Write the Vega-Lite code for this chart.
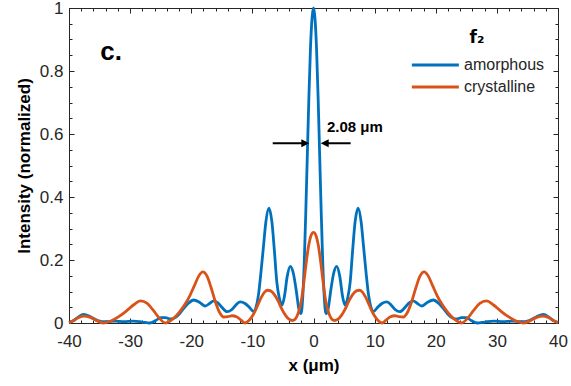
{
  "$schema": "https://vega.github.io/schema/vega-lite/v6.json",
  "width": 489,
  "height": 315,
  "autosize": {"type": "none"},
  "padding": {"left": 69, "top": 8, "right": 13, "bottom": 63},
  "background": "white",
  "config": {
    "font": "Liberation Sans",
    "view": {"stroke": "#262626", "strokeWidth": 1},
    "axis": {
      "labelFont": "Liberation Sans", "labelFontSize": 17, "labelColor": "#262626",
      "titleFont": "Liberation Sans", "titleFontSize": 17, "titleFontWeight": "bold", "titleColor": "#000000",
      "tickColor": "#262626", "tickWidth": 1, "domain": false, "grid": false
    }
  },
  "datasets": {
    "curves": [
      {"x": -40.0, "y": 0.002, "s": "amorphous"}, {"x": -39.3, "y": 0.007, "s": "amorphous"}, {"x": -38.6, "y": 0.017, "s": "amorphous"}, {"x": -37.6, "y": 0.027, "s": "amorphous"}, {"x": -36.5, "y": 0.02, "s": "amorphous"}, {"x": -35.3, "y": 0.008, "s": "amorphous"}, {"x": -34.0, "y": 0.004, "s": "amorphous"}, {"x": -32.5, "y": 0.006, "s": "amorphous"}, {"x": -31.0, "y": 0.004, "s": "amorphous"}, {"x": -29.5, "y": 0.006, "s": "amorphous"}, {"x": -28.0, "y": 0.003, "s": "amorphous"}, {"x": -26.8, "y": 0.0, "s": "amorphous"}, {"x": -25.8, "y": 0.008, "s": "amorphous"}, {"x": -25.0, "y": 0.017, "s": "amorphous"}, {"x": -24.2, "y": 0.017, "s": "amorphous"}, {"x": -23.5, "y": 0.013, "s": "amorphous"}, {"x": -22.8, "y": 0.015, "s": "amorphous"}, {"x": -22.0, "y": 0.028, "s": "amorphous"}, {"x": -21.3, "y": 0.045, "s": "amorphous"}, {"x": -20.5, "y": 0.062, "s": "amorphous"}, {"x": -19.6, "y": 0.073, "s": "amorphous"}, {"x": -18.6, "y": 0.065, "s": "amorphous"}, {"x": -17.7, "y": 0.054, "s": "amorphous"}, {"x": -17.0, "y": 0.062, "s": "amorphous"}, {"x": -16.3, "y": 0.07, "s": "amorphous"}, {"x": -15.6, "y": 0.063, "s": "amorphous"}, {"x": -15.0, "y": 0.05, "s": "amorphous"}, {"x": -14.15, "y": 0.036, "s": "amorphous"}, {"x": -13.4, "y": 0.042, "s": "amorphous"}, {"x": -12.8, "y": 0.055, "s": "amorphous"}, {"x": -12.0, "y": 0.067, "s": "amorphous"}, {"x": -11.2, "y": 0.062, "s": "amorphous"}, {"x": -10.4, "y": 0.048, "s": "amorphous"}, {"x": -9.8, "y": 0.036, "s": "amorphous"}, {"x": -9.4, "y": 0.05, "s": "amorphous"}, {"x": -9.0, "y": 0.09, "s": "amorphous"}, {"x": -8.6, "y": 0.16, "s": "amorphous"}, {"x": -8.2, "y": 0.24, "s": "amorphous"}, {"x": -7.8, "y": 0.32, "s": "amorphous"}, {"x": -7.3, "y": 0.365, "s": "amorphous"}, {"x": -6.8, "y": 0.32, "s": "amorphous"}, {"x": -6.4, "y": 0.23, "s": "amorphous"}, {"x": -6.0, "y": 0.13, "s": "amorphous"}, {"x": -5.6, "y": 0.08, "s": "amorphous"}, {"x": -5.15, "y": 0.057, "s": "amorphous"}, {"x": -4.75, "y": 0.085, "s": "amorphous"}, {"x": -4.3, "y": 0.148, "s": "amorphous"}, {"x": -3.8, "y": 0.18, "s": "amorphous"}, {"x": -3.3, "y": 0.158, "s": "amorphous"}, {"x": -2.8, "y": 0.1, "s": "amorphous"}, {"x": -2.4, "y": 0.045, "s": "amorphous"}, {"x": -2.05, "y": 0.03, "s": "amorphous"}, {"x": -1.75, "y": 0.085, "s": "amorphous"}, {"x": -1.5, "y": 0.2, "s": "amorphous"}, {"x": -1.25, "y": 0.36, "s": "amorphous"}, {"x": -1.0, "y": 0.54, "s": "amorphous"}, {"x": -0.75, "y": 0.72, "s": "amorphous"}, {"x": -0.5, "y": 0.87, "s": "amorphous"}, {"x": -0.25, "y": 0.965, "s": "amorphous"},
      {"x": 0.0, "y": 1.0, "s": "amorphous"},
      {"x": 0.25, "y": 0.965, "s": "amorphous"}, {"x": 0.5, "y": 0.87, "s": "amorphous"}, {"x": 0.75, "y": 0.72, "s": "amorphous"}, {"x": 1.0, "y": 0.54, "s": "amorphous"}, {"x": 1.25, "y": 0.36, "s": "amorphous"}, {"x": 1.5, "y": 0.2, "s": "amorphous"}, {"x": 1.75, "y": 0.085, "s": "amorphous"}, {"x": 2.05, "y": 0.03, "s": "amorphous"}, {"x": 2.4, "y": 0.045, "s": "amorphous"}, {"x": 2.8, "y": 0.1, "s": "amorphous"}, {"x": 3.3, "y": 0.158, "s": "amorphous"}, {"x": 3.8, "y": 0.18, "s": "amorphous"}, {"x": 4.3, "y": 0.148, "s": "amorphous"}, {"x": 4.75, "y": 0.085, "s": "amorphous"}, {"x": 5.15, "y": 0.057, "s": "amorphous"}, {"x": 5.6, "y": 0.08, "s": "amorphous"}, {"x": 6.0, "y": 0.13, "s": "amorphous"}, {"x": 6.4, "y": 0.23, "s": "amorphous"}, {"x": 6.8, "y": 0.32, "s": "amorphous"}, {"x": 7.3, "y": 0.365, "s": "amorphous"}, {"x": 7.8, "y": 0.32, "s": "amorphous"}, {"x": 8.2, "y": 0.24, "s": "amorphous"}, {"x": 8.6, "y": 0.16, "s": "amorphous"}, {"x": 9.0, "y": 0.09, "s": "amorphous"}, {"x": 9.4, "y": 0.05, "s": "amorphous"}, {"x": 9.8, "y": 0.036, "s": "amorphous"}, {"x": 10.4, "y": 0.048, "s": "amorphous"}, {"x": 11.2, "y": 0.062, "s": "amorphous"}, {"x": 12.0, "y": 0.067, "s": "amorphous"}, {"x": 12.8, "y": 0.055, "s": "amorphous"}, {"x": 13.4, "y": 0.042, "s": "amorphous"}, {"x": 14.15, "y": 0.036, "s": "amorphous"}, {"x": 15.0, "y": 0.05, "s": "amorphous"}, {"x": 15.6, "y": 0.063, "s": "amorphous"}, {"x": 16.3, "y": 0.07, "s": "amorphous"}, {"x": 17.0, "y": 0.062, "s": "amorphous"}, {"x": 17.7, "y": 0.054, "s": "amorphous"}, {"x": 18.6, "y": 0.065, "s": "amorphous"}, {"x": 19.6, "y": 0.073, "s": "amorphous"}, {"x": 20.5, "y": 0.062, "s": "amorphous"}, {"x": 21.3, "y": 0.045, "s": "amorphous"}, {"x": 22.0, "y": 0.028, "s": "amorphous"}, {"x": 22.8, "y": 0.015, "s": "amorphous"}, {"x": 23.5, "y": 0.013, "s": "amorphous"}, {"x": 24.2, "y": 0.017, "s": "amorphous"}, {"x": 25.0, "y": 0.017, "s": "amorphous"}, {"x": 25.8, "y": 0.008, "s": "amorphous"}, {"x": 26.8, "y": 0.0, "s": "amorphous"}, {"x": 28.0, "y": 0.003, "s": "amorphous"}, {"x": 29.5, "y": 0.006, "s": "amorphous"}, {"x": 31.0, "y": 0.004, "s": "amorphous"}, {"x": 32.5, "y": 0.006, "s": "amorphous"}, {"x": 34.0, "y": 0.004, "s": "amorphous"}, {"x": 35.3, "y": 0.008, "s": "amorphous"}, {"x": 36.5, "y": 0.02, "s": "amorphous"}, {"x": 37.6, "y": 0.027, "s": "amorphous"}, {"x": 38.6, "y": 0.017, "s": "amorphous"}, {"x": 39.3, "y": 0.007, "s": "amorphous"}, {"x": 40.0, "y": 0.002, "s": "amorphous"},

      {"x": -40.0, "y": 0.0, "s": "crystalline"}, {"x": -39.4, "y": 0.006, "s": "crystalline"}, {"x": -38.6, "y": 0.016, "s": "crystalline"}, {"x": -37.6, "y": 0.022, "s": "crystalline"}, {"x": -36.5, "y": 0.018, "s": "crystalline"}, {"x": -35.3, "y": 0.006, "s": "crystalline"}, {"x": -34.3, "y": 0.0, "s": "crystalline"}, {"x": -33.5, "y": 0.004, "s": "crystalline"}, {"x": -32.5, "y": 0.013, "s": "crystalline"}, {"x": -31.5, "y": 0.025, "s": "crystalline"}, {"x": -30.5, "y": 0.04, "s": "crystalline"}, {"x": -29.4, "y": 0.058, "s": "crystalline"}, {"x": -28.3, "y": 0.07, "s": "crystalline"}, {"x": -27.2, "y": 0.062, "s": "crystalline"}, {"x": -26.2, "y": 0.04, "s": "crystalline"}, {"x": -25.2, "y": 0.015, "s": "crystalline"}, {"x": -24.2, "y": 0.0, "s": "crystalline"}, {"x": -23.0, "y": 0.013, "s": "crystalline"}, {"x": -22.0, "y": 0.033, "s": "crystalline"}, {"x": -21.0, "y": 0.06, "s": "crystalline"}, {"x": -20.2, "y": 0.088, "s": "crystalline"}, {"x": -19.5, "y": 0.118, "s": "crystalline"}, {"x": -18.8, "y": 0.148, "s": "crystalline"}, {"x": -18.1, "y": 0.162, "s": "crystalline"}, {"x": -17.4, "y": 0.148, "s": "crystalline"}, {"x": -16.8, "y": 0.115, "s": "crystalline"}, {"x": -16.1, "y": 0.07, "s": "crystalline"}, {"x": -15.4, "y": 0.035, "s": "crystalline"}, {"x": -14.7, "y": 0.019, "s": "crystalline"}, {"x": -14.0, "y": 0.02, "s": "crystalline"}, {"x": -13.3, "y": 0.023, "s": "crystalline"}, {"x": -12.6, "y": 0.02, "s": "crystalline"}, {"x": -11.9, "y": 0.01, "s": "crystalline"}, {"x": -11.2, "y": 0.0, "s": "crystalline"}, {"x": -10.6, "y": 0.007, "s": "crystalline"}, {"x": -10.0, "y": 0.022, "s": "crystalline"}, {"x": -9.5, "y": 0.04, "s": "crystalline"}, {"x": -9.0, "y": 0.062, "s": "crystalline"}, {"x": -8.5, "y": 0.083, "s": "crystalline"}, {"x": -8.0, "y": 0.098, "s": "crystalline"}, {"x": -7.5, "y": 0.104, "s": "crystalline"}, {"x": -7.0, "y": 0.102, "s": "crystalline"}, {"x": -6.4, "y": 0.09, "s": "crystalline"}, {"x": -5.8, "y": 0.07, "s": "crystalline"}, {"x": -5.2, "y": 0.045, "s": "crystalline"}, {"x": -4.6, "y": 0.025, "s": "crystalline"}, {"x": -4.0, "y": 0.012, "s": "crystalline"}, {"x": -3.4, "y": 0.008, "s": "crystalline"}, {"x": -2.8, "y": 0.018, "s": "crystalline"}, {"x": -2.4, "y": 0.038, "s": "crystalline"}, {"x": -2.0, "y": 0.07, "s": "crystalline"}, {"x": -1.6, "y": 0.125, "s": "crystalline"}, {"x": -1.2, "y": 0.19, "s": "crystalline"}, {"x": -0.8, "y": 0.245, "s": "crystalline"}, {"x": -0.4, "y": 0.278, "s": "crystalline"},
      {"x": 0.0, "y": 0.288, "s": "crystalline"},
      {"x": 0.4, "y": 0.278, "s": "crystalline"}, {"x": 0.8, "y": 0.245, "s": "crystalline"}, {"x": 1.2, "y": 0.19, "s": "crystalline"}, {"x": 1.6, "y": 0.125, "s": "crystalline"}, {"x": 2.0, "y": 0.07, "s": "crystalline"}, {"x": 2.4, "y": 0.038, "s": "crystalline"}, {"x": 2.8, "y": 0.018, "s": "crystalline"}, {"x": 3.4, "y": 0.008, "s": "crystalline"}, {"x": 4.0, "y": 0.012, "s": "crystalline"}, {"x": 4.6, "y": 0.025, "s": "crystalline"}, {"x": 5.2, "y": 0.045, "s": "crystalline"}, {"x": 5.8, "y": 0.07, "s": "crystalline"}, {"x": 6.4, "y": 0.09, "s": "crystalline"}, {"x": 7.0, "y": 0.102, "s": "crystalline"}, {"x": 7.5, "y": 0.104, "s": "crystalline"}, {"x": 8.0, "y": 0.098, "s": "crystalline"}, {"x": 8.5, "y": 0.083, "s": "crystalline"}, {"x": 9.0, "y": 0.062, "s": "crystalline"}, {"x": 9.5, "y": 0.04, "s": "crystalline"}, {"x": 10.0, "y": 0.022, "s": "crystalline"}, {"x": 10.6, "y": 0.007, "s": "crystalline"}, {"x": 11.2, "y": 0.0, "s": "crystalline"}, {"x": 11.9, "y": 0.01, "s": "crystalline"}, {"x": 12.6, "y": 0.02, "s": "crystalline"}, {"x": 13.3, "y": 0.023, "s": "crystalline"}, {"x": 14.0, "y": 0.02, "s": "crystalline"}, {"x": 14.7, "y": 0.019, "s": "crystalline"}, {"x": 15.4, "y": 0.035, "s": "crystalline"}, {"x": 16.1, "y": 0.07, "s": "crystalline"}, {"x": 16.8, "y": 0.115, "s": "crystalline"}, {"x": 17.4, "y": 0.148, "s": "crystalline"}, {"x": 18.1, "y": 0.162, "s": "crystalline"}, {"x": 18.8, "y": 0.148, "s": "crystalline"}, {"x": 19.5, "y": 0.118, "s": "crystalline"}, {"x": 20.2, "y": 0.088, "s": "crystalline"}, {"x": 21.0, "y": 0.06, "s": "crystalline"}, {"x": 22.0, "y": 0.033, "s": "crystalline"}, {"x": 23.0, "y": 0.013, "s": "crystalline"}, {"x": 24.2, "y": 0.0, "s": "crystalline"}, {"x": 25.2, "y": 0.015, "s": "crystalline"}, {"x": 26.2, "y": 0.04, "s": "crystalline"}, {"x": 27.2, "y": 0.062, "s": "crystalline"}, {"x": 28.3, "y": 0.07, "s": "crystalline"}, {"x": 29.4, "y": 0.058, "s": "crystalline"}, {"x": 30.5, "y": 0.04, "s": "crystalline"}, {"x": 31.5, "y": 0.025, "s": "crystalline"}, {"x": 32.5, "y": 0.013, "s": "crystalline"}, {"x": 33.5, "y": 0.004, "s": "crystalline"}, {"x": 34.3, "y": 0.0, "s": "crystalline"}, {"x": 35.3, "y": 0.006, "s": "crystalline"}, {"x": 36.5, "y": 0.018, "s": "crystalline"}, {"x": 37.6, "y": 0.022, "s": "crystalline"}, {"x": 38.6, "y": 0.016, "s": "crystalline"}, {"x": 39.4, "y": 0.006, "s": "crystalline"}, {"x": 40.0, "y": 0.0, "s": "crystalline"}
    ],
    "arrows": [
      {"x": -6.67, "x2": -1.2, "y": 0.5706},
      {"x": 6.08, "x2": 1.7, "y": 0.5706}
    ],
    "heads": [
      {"x": -0.69, "y": 0.5706, "d": "r"},
      {"x": 1.18, "y": 0.5706, "d": "l"}
    ],
    "labels": [
      {"x": -34.9, "y": 0.86, "t": "c.", "k": "panel"},
      {"x": 2.2, "y": 0.623, "t": "2.08 μm", "k": "fwhm"}
    ],
    "dummy": [{"x": 0, "y": 0}]
  },
  "layer": [
    {
      "data": {"name": "curves"},
      "mark": {"type": "line", "interpolate": "monotone", "strokeWidth": 2.8},
      "encoding": {
        "x": {
          "field": "x", "type": "quantitative",
          "scale": {"domain": [-40, 40], "nice": false, "zero": false},
          "axis": {"orient": "bottom", "values": [-40, -30, -20, -10, 0, 10, 20, 30, 40], "labelExpr": "toString(datum.value)", "tickSize": -5, "labelPadding": 15, "labelFlush": false, "title": "x (μm)", "titlePadding": 8}
        },
        "y": {
          "field": "y", "type": "quantitative",
          "scale": {"domain": [0, 1], "nice": false},
          "axis": {"orient": "left", "values": [0, 0.2, 0.4, 0.6, 0.8, 1], "labelExpr": "toString(datum.value)", "tickSize": -5, "labelPadding": 11, "labelFlush": false, "title": "Intensity (normalized)", "titlePadding": 6}
        },
        "color": {
          "field": "s", "type": "nominal",
          "scale": {"domain": ["amorphous", "crystalline"], "range": ["#0072BD", "#D95319"]},
          "legend": {
            "orient": "none", "legendX": 341, "legendY": 22,
            "title": "f₂", "titleFont": "DejaVu Sans", "titleFontSize": 17, "titleFontWeight": "bold", "titleColor": "#000000", "titleAnchor": "middle", "titlePadding": 10,
            "labelFontSize": 16, "labelColor": "#262626", "labelOffset": 3,
            "symbolType": "M-7,0H1", "symbolStrokeWidth": 2.8, "symbolSize": 138, "symbolOffset": 35, "rowPadding": 6, "padding": 0
          }
        }
      }
    },
    {
      "data": {"name": "dummy"},
      "mark": {"type": "point", "opacity": 0},
      "encoding": {
        "x": {"field": "x", "type": "quantitative", "axis": {"orient": "bottom", "values": [-40, -38, -36, -34, -32, -30, -28, -26, -24, -22, -20, -18, -16, -14, -12, -10, -8, -6, -4, -2, 0, 2, 4, 6, 8, 10, 12, 14, 16, 18, 20, 22, 24, 26, 28, 30, 32, 34, 36, 38, 40], "tickSize": -3, "labels": false, "title": null}},
        "y": {"field": "y", "type": "quantitative", "axis": {"orient": "left", "values": [0, 0.05, 0.1, 0.15, 0.2, 0.25, 0.3, 0.35, 0.4, 0.45, 0.5, 0.55, 0.6, 0.65, 0.7, 0.75, 0.8, 0.85, 0.9, 0.95, 1], "tickSize": -3, "labels": false, "title": null}}
      }
    },
    {
      "data": {"name": "dummy"},
      "mark": {"type": "point", "opacity": 0},
      "encoding": {
        "x": {"field": "x", "type": "quantitative", "axis": {"orient": "top", "values": [-40, -30, -20, -10, 0, 10, 20, 30, 40], "tickSize": -5, "labels": false, "title": null}},
        "y": {"field": "y", "type": "quantitative", "axis": {"orient": "right", "values": [0, 0.2, 0.4, 0.6, 0.8, 1], "tickSize": -5, "labels": false, "title": null}}
      }
    },
    {
      "data": {"name": "dummy"},
      "mark": {"type": "point", "opacity": 0},
      "encoding": {
        "x": {"field": "x", "type": "quantitative", "axis": {"orient": "top", "values": [-40, -38, -36, -34, -32, -30, -28, -26, -24, -22, -20, -18, -16, -14, -12, -10, -8, -6, -4, -2, 0, 2, 4, 6, 8, 10, 12, 14, 16, 18, 20, 22, 24, 26, 28, 30, 32, 34, 36, 38, 40], "tickSize": -3, "labels": false, "title": null}},
        "y": {"field": "y", "type": "quantitative", "axis": {"orient": "right", "values": [0, 0.05, 0.1, 0.15, 0.2, 0.25, 0.3, 0.35, 0.4, 0.45, 0.5, 0.55, 0.6, 0.65, 0.7, 0.75, 0.8, 0.85, 0.9, 0.95, 1], "tickSize": -3, "labels": false, "title": null}}
      }
    },
    {
      "data": {"name": "arrows"},
      "mark": {"type": "rule", "color": "#000000", "strokeWidth": 2},
      "encoding": {
        "x": {"field": "x", "type": "quantitative", "axis": null},
        "x2": {"field": "x2"},
        "y": {"field": "y", "type": "quantitative", "axis": null}
      }
    },
    {
      "data": {"name": "heads"},
      "mark": {"type": "point", "filled": true, "color": "#000000", "opacity": 1, "size": 64},
      "encoding": {
        "x": {"field": "x", "type": "quantitative", "axis": null},
        "y": {"field": "y", "type": "quantitative", "axis": null},
        "shape": {"field": "d", "type": "nominal", "scale": {"domain": ["r", "l"], "range": ["M-2,-1L0,0L-2,1Z", "M2,-1L0,0L2,1Z"]}, "legend": null}
      }
    },
    {
      "data": {"name": "labels"},
      "transform": [{"filter": "datum.k == 'panel'"}],
      "mark": {"type": "text", "align": "left", "baseline": "middle", "fontSize": 26, "fontWeight": "bold", "color": "#000000"},
      "encoding": {
        "x": {"field": "x", "type": "quantitative", "axis": null},
        "y": {"field": "y", "type": "quantitative", "axis": null},
        "text": {"field": "t"}
      }
    },
    {
      "data": {"name": "labels"},
      "transform": [{"filter": "datum.k == 'fwhm'"}],
      "mark": {"type": "text", "align": "left", "baseline": "middle", "fontSize": 15, "fontWeight": "bold", "color": "#000000"},
      "encoding": {
        "x": {"field": "x", "type": "quantitative", "axis": null},
        "y": {"field": "y", "type": "quantitative", "axis": null},
        "text": {"field": "t"}
      }
    }
  ],
  "resolve": {"axis": {"x": "independent", "y": "independent"}}
}
